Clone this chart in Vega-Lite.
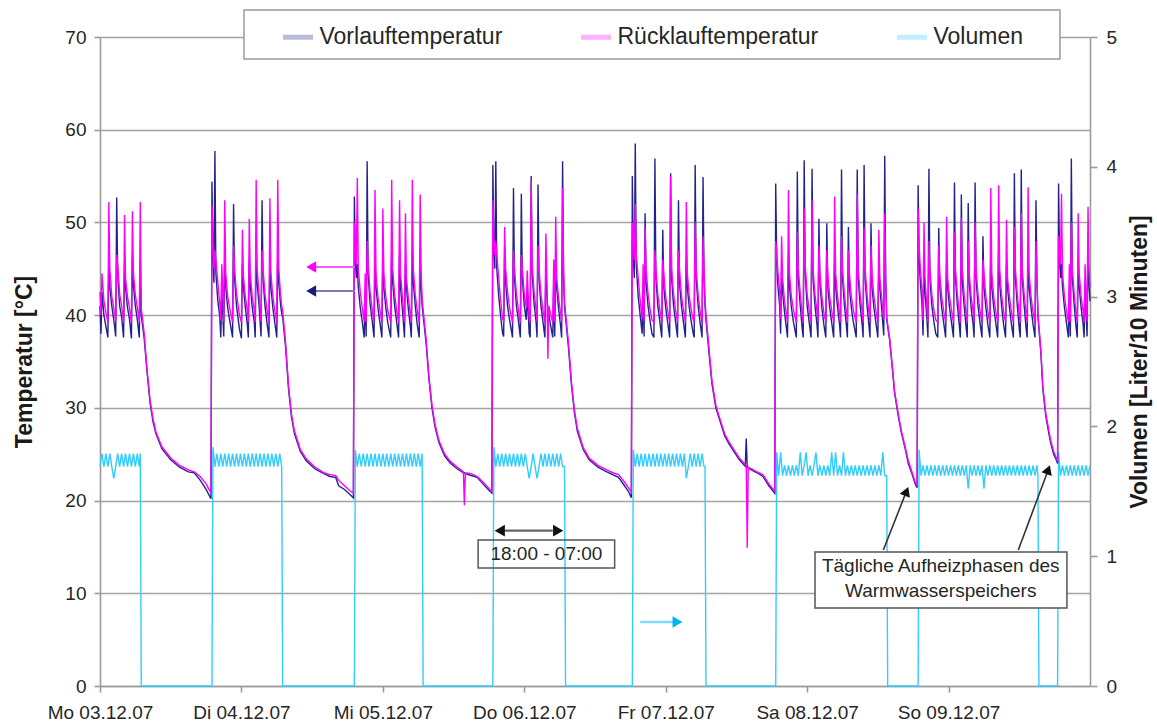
{
"$schema":"https://vega.github.io/schema/vega-lite/v6.json",
"width":990,"height":649,
"autosize":{"type":"none"},
"padding":{"left":100,"top":37,"right":67,"bottom":41},
"background":"white",
"config":{
"font":"Liberation Sans",
"view":{"stroke":null},
"axis":{"labelFont":"Liberation Sans","labelFontSize":19,"labelColor":"#262626","titleFont":"Liberation Sans","titleFontSize":23,"titleFontWeight":"bold","titleColor":"#1a1a1a","domainColor":"#9a9a9a","domainWidth":1.6,"tickColor":"#9a9a9a","tickWidth":1.6,"gridColor":"#a3a3a3","gridWidth":1.6}
},
"datasets":{
"temp":[
{"t":"2007-12-03T00:00","V":41.0,"R":42.5},{"t":"2007-12-03T00:10","V":38.0,"R":40.0},{"t":"2007-12-03T00:20","V":42.5,"R":44.5},{"t":"2007-12-03T00:40","V":40.0,"R":41.5},{"t":"2007-12-03T01:00","V":38.8,"R":40.3},{"t":"2007-12-03T01:20","V":37.6,"R":39.2},{"t":"2007-12-03T01:30","V":46.0,"R":52.2},{"t":"2007-12-03T01:40","V":43.0,"R":45.0},{"t":"2007-12-03T02:00","V":41.0,"R":42.0},{"t":"2007-12-03T02:20","V":39.5,"R":40.8},{"t":"2007-12-03T02:40","V":37.7,"R":39.3},{"t":"2007-12-03T02:50","V":52.7,"R":46.5},{"t":"2007-12-03T03:00","V":44.5,"R":45.5},{"t":"2007-12-03T03:20","V":41.0,"R":42.3},{"t":"2007-12-03T03:40","V":39.8,"R":41.0},{"t":"2007-12-03T04:00","V":37.6,"R":39.2},{"t":"2007-12-03T04:10","V":45.5,"R":50.8},{"t":"2007-12-03T04:20","V":43.0,"R":44.0},{"t":"2007-12-03T04:40","V":40.8,"R":42.0},{"t":"2007-12-03T05:00","V":39.6,"R":40.8},{"t":"2007-12-03T05:20","V":37.5,"R":39.2},{"t":"2007-12-03T05:30","V":46.5,"R":51.2},{"t":"2007-12-03T05:40","V":43.2,"R":44.5},{"t":"2007-12-03T06:00","V":41.0,"R":42.2},{"t":"2007-12-03T06:20","V":39.5,"R":40.8},{"t":"2007-12-03T06:40","V":37.6,"R":39.3},{"t":"2007-12-03T06:50","V":46.0,"R":52.2},
{"t":"2007-12-03T07:00","V":40.0,"R":40.8},{"t":"2007-12-03T07:30","V":37.5,"R":38.0},{"t":"2007-12-03T08:00","V":33.8,"R":34.0},{"t":"2007-12-03T08:30","V":30.5,"R":30.8},{"t":"2007-12-03T09:00","V":28.5,"R":28.8},{"t":"2007-12-03T09:30","V":27.2,"R":27.4},{"t":"2007-12-03T10:30","V":25.6,"R":25.8},{"t":"2007-12-03T12:00","V":24.4,"R":24.6},{"t":"2007-12-03T13:30","V":23.6,"R":23.8},{"t":"2007-12-03T15:00","V":23.1,"R":23.3},{"t":"2007-12-03T16:00","V":23.0,"R":23.1},{"t":"2007-12-03T17:00","V":22.2,"R":22.6},{"t":"2007-12-03T18:00","V":21.2,"R":21.8},{"t":"2007-12-03T18:50","V":20.2,"R":20.8},
{"t":"2007-12-03T19:00","V":54.4,"R":51.9},{"t":"2007-12-03T19:10","V":46.5,"R":48.0},{"t":"2007-12-03T19:20","V":43.5,"R":45.0},{"t":"2007-12-03T19:30","V":57.7,"R":47.0},{"t":"2007-12-03T19:40","V":44.5,"R":46.0},{"t":"2007-12-03T20:00","V":41.5,"R":43.5},{"t":"2007-12-03T20:20","V":39.8,"R":41.2},{"t":"2007-12-03T20:30","V":37.6,"R":39.4},{"t":"2007-12-03T20:40","V":42.8,"R":45.5},{"t":"2007-12-03T21:00","V":37.7,"R":39.3},{"t":"2007-12-03T21:10","V":46.5,"R":52.4},{"t":"2007-12-03T21:20","V":43.0,"R":44.5},{"t":"2007-12-03T21:40","V":40.8,"R":42.0},{"t":"2007-12-03T22:00","V":39.5,"R":40.8},{"t":"2007-12-03T22:30","V":37.6,"R":39.2},{"t":"2007-12-03T22:40","V":52.0,"R":47.5},{"t":"2007-12-03T22:50","V":44.0,"R":45.0},{"t":"2007-12-03T23:10","V":41.0,"R":42.3},{"t":"2007-12-03T23:40","V":38.5,"R":40.0},
{"t":"2007-12-04T00:00","V":37.5,"R":39.2},{"t":"2007-12-04T00:10","V":45.5,"R":49.2},{"t":"2007-12-04T00:20","V":43.0,"R":44.2},{"t":"2007-12-04T00:40","V":40.8,"R":42.0},{"t":"2007-12-04T01:00","V":39.0,"R":40.5},{"t":"2007-12-04T01:10","V":37.6,"R":39.2},{"t":"2007-12-04T01:20","V":46.0,"R":50.4},{"t":"2007-12-04T01:30","V":43.2,"R":44.5},{"t":"2007-12-04T01:50","V":40.8,"R":42.0},{"t":"2007-12-04T02:10","V":39.3,"R":40.6},{"t":"2007-12-04T02:20","V":37.6,"R":39.2},{"t":"2007-12-04T02:30","V":47.0,"R":54.6},{"t":"2007-12-04T02:40","V":43.5,"R":45.0},{"t":"2007-12-04T03:00","V":41.0,"R":42.2},{"t":"2007-12-04T03:20","V":37.7,"R":39.3},{"t":"2007-12-04T03:30","V":52.4,"R":47.0},{"t":"2007-12-04T03:40","V":44.0,"R":45.0},{"t":"2007-12-04T04:00","V":41.0,"R":42.3},{"t":"2007-12-04T04:20","V":39.2,"R":40.6},{"t":"2007-12-04T04:40","V":37.6,"R":39.2},{"t":"2007-12-04T04:50","V":46.5,"R":52.6},{"t":"2007-12-04T05:00","V":43.0,"R":44.5},{"t":"2007-12-04T05:20","V":40.8,"R":42.0},{"t":"2007-12-04T05:40","V":39.2,"R":40.5},{"t":"2007-12-04T06:00","V":37.6,"R":39.2},{"t":"2007-12-04T06:10","V":47.0,"R":54.6},{"t":"2007-12-04T06:20","V":43.5,"R":45.0},{"t":"2007-12-04T06:40","V":41.0,"R":42.0},{"t":"2007-12-04T06:50","V":40.2,"R":41.0},
{"t":"2007-12-04T07:00","V":39.8,"R":40.5},{"t":"2007-12-04T07:30","V":36.5,"R":37.0},{"t":"2007-12-04T08:00","V":32.0,"R":32.3},{"t":"2007-12-04T08:30","V":29.0,"R":29.3},{"t":"2007-12-04T09:00","V":27.2,"R":27.5},{"t":"2007-12-04T10:00","V":25.3,"R":25.5},{"t":"2007-12-04T11:00","V":24.3,"R":24.5},{"t":"2007-12-04T12:30","V":23.4,"R":23.6},{"t":"2007-12-04T14:00","V":22.9,"R":23.0},{"t":"2007-12-04T15:00","V":22.6,"R":22.8},{"t":"2007-12-04T16:00","V":22.5,"R":22.7},{"t":"2007-12-04T16:30","V":21.6,"R":22.2},{"t":"2007-12-04T17:30","V":21.2,"R":21.6},{"t":"2007-12-04T18:30","V":20.6,"R":21.0},{"t":"2007-12-04T19:00","V":20.3,"R":20.8},
{"t":"2007-12-04T19:10","V":52.8,"R":50.0},{"t":"2007-12-04T19:20","V":46.0,"R":47.5},{"t":"2007-12-04T19:30","V":44.0,"R":45.5},{"t":"2007-12-04T19:40","V":45.5,"R":54.8},{"t":"2007-12-04T19:50","V":43.0,"R":45.0},{"t":"2007-12-04T20:10","V":40.8,"R":42.5},{"t":"2007-12-04T20:30","V":39.3,"R":40.8},{"t":"2007-12-04T20:50","V":37.6,"R":39.3},{"t":"2007-12-04T21:00","V":42.5,"R":44.5},{"t":"2007-12-04T21:10","V":37.7,"R":39.2},{"t":"2007-12-04T21:20","V":56.6,"R":48.0},{"t":"2007-12-04T21:30","V":44.5,"R":45.5},{"t":"2007-12-04T21:50","V":41.2,"R":42.5},{"t":"2007-12-04T22:10","V":39.5,"R":40.8},{"t":"2007-12-04T22:30","V":37.6,"R":39.2},{"t":"2007-12-04T22:40","V":46.5,"R":53.5},{"t":"2007-12-04T22:50","V":43.0,"R":44.5},{"t":"2007-12-04T23:10","V":40.8,"R":42.0},{"t":"2007-12-04T23:30","V":39.2,"R":40.6},{"t":"2007-12-04T23:50","V":37.6,"R":39.2},
{"t":"2007-12-05T00:00","V":46.0,"R":51.5},{"t":"2007-12-05T00:10","V":43.0,"R":44.5},{"t":"2007-12-05T00:30","V":40.8,"R":42.0},{"t":"2007-12-05T00:50","V":39.2,"R":40.5},{"t":"2007-12-05T01:20","V":37.6,"R":39.2},{"t":"2007-12-05T01:30","V":47.0,"R":54.6},{"t":"2007-12-05T01:40","V":43.5,"R":45.0},{"t":"2007-12-05T02:00","V":41.0,"R":42.2},{"t":"2007-12-05T02:20","V":39.3,"R":40.6},{"t":"2007-12-05T02:40","V":37.6,"R":39.2},{"t":"2007-12-05T02:50","V":46.5,"R":52.4},{"t":"2007-12-05T03:00","V":43.0,"R":44.5},{"t":"2007-12-05T03:20","V":40.5,"R":41.8},{"t":"2007-12-05T03:40","V":37.6,"R":39.2},{"t":"2007-12-05T03:50","V":45.5,"R":51.0},{"t":"2007-12-05T04:00","V":43.0,"R":44.0},{"t":"2007-12-05T04:20","V":40.6,"R":41.8},{"t":"2007-12-05T04:40","V":38.8,"R":40.2},{"t":"2007-12-05T04:50","V":37.6,"R":39.2},{"t":"2007-12-05T05:00","V":47.0,"R":54.6},{"t":"2007-12-05T05:10","V":43.5,"R":45.0},{"t":"2007-12-05T05:30","V":41.0,"R":42.2},{"t":"2007-12-05T05:50","V":39.0,"R":40.5},{"t":"2007-12-05T06:10","V":37.6,"R":39.2},{"t":"2007-12-05T06:20","V":46.5,"R":53.0},{"t":"2007-12-05T06:30","V":43.0,"R":44.5},{"t":"2007-12-05T06:40","V":41.0,"R":41.8},
{"t":"2007-12-05T06:50","V":40.0,"R":40.6},{"t":"2007-12-05T07:20","V":37.0,"R":37.5},{"t":"2007-12-05T07:50","V":33.0,"R":33.3},{"t":"2007-12-05T08:20","V":30.0,"R":30.3},{"t":"2007-12-05T08:50","V":28.0,"R":28.3},{"t":"2007-12-05T09:30","V":26.3,"R":26.5},{"t":"2007-12-05T10:30","V":24.8,"R":25.0},{"t":"2007-12-05T11:30","V":24.0,"R":24.2},{"t":"2007-12-05T12:40","V":23.4,"R":23.6},{"t":"2007-12-05T13:40","V":23.0,"R":23.1},{"t":"2007-12-05T13:50","V":23.0,"R":19.5},{"t":"2007-12-05T14:00","V":22.9,"R":23.0},{"t":"2007-12-05T15:00","V":22.7,"R":22.9},{"t":"2007-12-05T16:00","V":22.5,"R":22.6},{"t":"2007-12-05T17:00","V":21.8,"R":22.0},{"t":"2007-12-05T18:00","V":21.1,"R":21.3},{"t":"2007-12-05T18:30","V":20.8,"R":21.0},
{"t":"2007-12-05T18:40","V":56.2,"R":52.4},{"t":"2007-12-05T18:50","V":47.0,"R":48.5},{"t":"2007-12-05T19:00","V":45.0,"R":46.5},{"t":"2007-12-05T19:10","V":56.6,"R":48.0},{"t":"2007-12-05T19:20","V":45.0,"R":46.5},{"t":"2007-12-05T19:40","V":42.0,"R":44.0},{"t":"2007-12-05T20:00","V":39.8,"R":41.5},{"t":"2007-12-05T20:20","V":38.0,"R":39.6},{"t":"2007-12-05T20:30","V":37.7,"R":39.3},{"t":"2007-12-05T20:40","V":47.4,"R":49.5},{"t":"2007-12-05T20:50","V":43.5,"R":45.0},{"t":"2007-12-05T21:10","V":41.0,"R":42.5},{"t":"2007-12-05T21:30","V":39.5,"R":40.8},{"t":"2007-12-05T22:00","V":37.6,"R":39.2},{"t":"2007-12-05T22:10","V":53.7,"R":47.0},{"t":"2007-12-05T22:20","V":44.0,"R":45.0},{"t":"2007-12-05T22:40","V":41.0,"R":42.3},{"t":"2007-12-05T23:00","V":39.4,"R":40.6},{"t":"2007-12-05T23:20","V":37.6,"R":39.2},{"t":"2007-12-05T23:30","V":53.1,"R":46.5},{"t":"2007-12-05T23:40","V":44.0,"R":45.0},
{"t":"2007-12-06T00:00","V":41.0,"R":42.3},{"t":"2007-12-06T00:20","V":39.5,"R":40.8},{"t":"2007-12-06T00:30","V":42.5,"R":44.8},{"t":"2007-12-06T00:50","V":38.0,"R":39.6},{"t":"2007-12-06T01:00","V":37.6,"R":39.2},{"t":"2007-12-06T01:10","V":55.0,"R":54.4},{"t":"2007-12-06T01:20","V":44.5,"R":45.5},{"t":"2007-12-06T01:40","V":41.2,"R":42.5},{"t":"2007-12-06T02:00","V":39.3,"R":40.6},{"t":"2007-12-06T02:10","V":37.6,"R":39.2},{"t":"2007-12-06T02:20","V":54.1,"R":47.5},{"t":"2007-12-06T02:30","V":44.0,"R":45.0},{"t":"2007-12-06T02:50","V":41.0,"R":42.2},{"t":"2007-12-06T03:10","V":39.3,"R":40.6},{"t":"2007-12-06T03:30","V":37.6,"R":39.2},{"t":"2007-12-06T03:40","V":45.0,"R":48.8},{"t":"2007-12-06T03:50","V":42.5,"R":44.0},{"t":"2007-12-06T04:00","V":40.5,"R":35.3},{"t":"2007-12-06T04:10","V":40.0,"R":41.0},{"t":"2007-12-06T04:30","V":38.8,"R":40.0},{"t":"2007-12-06T04:50","V":37.6,"R":39.2},{"t":"2007-12-06T05:00","V":43.5,"R":46.0},{"t":"2007-12-06T05:10","V":37.7,"R":39.3},{"t":"2007-12-06T05:20","V":45.5,"R":50.6},{"t":"2007-12-06T05:30","V":43.0,"R":44.0},{"t":"2007-12-06T05:50","V":40.6,"R":41.8},{"t":"2007-12-06T06:10","V":38.8,"R":40.2},{"t":"2007-12-06T06:20","V":37.6,"R":39.2},{"t":"2007-12-06T06:30","V":56.6,"R":53.7},{"t":"2007-12-06T06:40","V":44.0,"R":45.0},{"t":"2007-12-06T06:50","V":40.8,"R":41.5},
{"t":"2007-12-06T07:00","V":39.8,"R":40.3},{"t":"2007-12-06T07:30","V":36.5,"R":37.0},{"t":"2007-12-06T08:00","V":32.5,"R":32.8},{"t":"2007-12-06T08:30","V":29.5,"R":29.8},{"t":"2007-12-06T09:00","V":27.5,"R":27.8},{"t":"2007-12-06T10:00","V":25.5,"R":25.7},{"t":"2007-12-06T11:00","V":24.4,"R":24.6},{"t":"2007-12-06T12:30","V":23.6,"R":23.8},{"t":"2007-12-06T14:00","V":23.1,"R":23.3},{"t":"2007-12-06T15:00","V":22.8,"R":23.0},{"t":"2007-12-06T16:00","V":22.5,"R":22.8},{"t":"2007-12-06T17:00","V":21.6,"R":22.0},{"t":"2007-12-06T17:40","V":21.0,"R":21.4},{"t":"2007-12-06T18:10","V":20.3,"R":20.9},
{"t":"2007-12-06T18:20","V":55.0,"R":50.0},{"t":"2007-12-06T18:30","V":46.5,"R":48.5},{"t":"2007-12-06T18:40","V":44.0,"R":46.0},{"t":"2007-12-06T18:50","V":58.5,"R":52.0},{"t":"2007-12-06T19:00","V":45.5,"R":46.5},{"t":"2007-12-06T19:20","V":42.0,"R":44.0},{"t":"2007-12-06T19:40","V":40.0,"R":41.6},{"t":"2007-12-06T20:00","V":38.0,"R":39.6},{"t":"2007-12-06T20:10","V":42.8,"R":45.5},{"t":"2007-12-06T20:20","V":37.7,"R":39.3},{"t":"2007-12-06T20:30","V":51.0,"R":49.5},{"t":"2007-12-06T20:40","V":43.5,"R":45.0},{"t":"2007-12-06T21:00","V":41.0,"R":42.3},{"t":"2007-12-06T21:20","V":39.4,"R":40.7},{"t":"2007-12-06T21:40","V":38.0,"R":39.5},{"t":"2007-12-06T22:00","V":37.6,"R":39.2},{"t":"2007-12-06T22:10","V":56.9,"R":47.0},{"t":"2007-12-06T22:20","V":44.0,"R":45.0},{"t":"2007-12-06T22:40","V":41.0,"R":42.2},{"t":"2007-12-06T23:00","V":39.3,"R":40.6},{"t":"2007-12-06T23:20","V":37.6,"R":39.2},{"t":"2007-12-06T23:30","V":49.2,"R":46.0},{"t":"2007-12-06T23:40","V":43.0,"R":44.5},
{"t":"2007-12-07T00:00","V":40.8,"R":42.0},{"t":"2007-12-07T00:20","V":39.2,"R":40.5},{"t":"2007-12-07T00:40","V":37.6,"R":39.2},{"t":"2007-12-07T00:50","V":55.3,"R":55.0},{"t":"2007-12-07T01:00","V":44.0,"R":45.0},{"t":"2007-12-07T01:20","V":41.0,"R":42.3},{"t":"2007-12-07T01:40","V":39.3,"R":40.6},{"t":"2007-12-07T02:00","V":37.6,"R":39.2},{"t":"2007-12-07T02:10","V":52.4,"R":47.0},{"t":"2007-12-07T02:20","V":43.5,"R":45.0},{"t":"2007-12-07T02:40","V":41.0,"R":42.2},{"t":"2007-12-07T03:00","V":39.3,"R":40.6},{"t":"2007-12-07T03:20","V":37.6,"R":39.2},{"t":"2007-12-07T03:30","V":46.0,"R":52.2},{"t":"2007-12-07T03:40","V":43.0,"R":44.5},{"t":"2007-12-07T04:00","V":40.8,"R":42.0},{"t":"2007-12-07T04:20","V":39.3,"R":40.6},{"t":"2007-12-07T04:40","V":38.0,"R":39.5},{"t":"2007-12-07T04:50","V":37.6,"R":39.2},{"t":"2007-12-07T05:00","V":56.2,"R":50.0},{"t":"2007-12-07T05:10","V":44.0,"R":45.0},{"t":"2007-12-07T05:30","V":41.0,"R":42.2},{"t":"2007-12-07T05:50","V":39.2,"R":40.5},{"t":"2007-12-07T06:10","V":37.6,"R":39.2},{"t":"2007-12-07T06:20","V":54.9,"R":48.5},{"t":"2007-12-07T06:30","V":44.0,"R":45.0},{"t":"2007-12-07T06:40","V":41.0,"R":41.8},
{"t":"2007-12-07T06:50","V":39.5,"R":40.0},{"t":"2007-12-07T07:20","V":36.0,"R":36.5},{"t":"2007-12-07T07:50","V":32.7,"R":33.0},{"t":"2007-12-07T08:30","V":30.0,"R":30.3},{"t":"2007-12-07T09:00","V":29.0,"R":29.2},{"t":"2007-12-07T10:00","V":27.0,"R":27.2},{"t":"2007-12-07T10:40","V":26.2,"R":26.4},{"t":"2007-12-07T11:40","V":25.2,"R":25.4},{"t":"2007-12-07T12:30","V":24.4,"R":24.6},{"t":"2007-12-07T13:30","V":23.7,"R":23.9},{"t":"2007-12-07T13:40","V":26.7,"R":23.8},{"t":"2007-12-07T13:50","V":23.6,"R":14.9},{"t":"2007-12-07T14:00","V":23.5,"R":23.6},{"t":"2007-12-07T15:30","V":23.0,"R":23.1},{"t":"2007-12-07T16:30","V":22.6,"R":22.8},{"t":"2007-12-07T17:30","V":21.6,"R":21.8},{"t":"2007-12-07T18:30","V":20.8,"R":21.0},
{"t":"2007-12-07T18:40","V":54.2,"R":48.0},{"t":"2007-12-07T18:50","V":46.0,"R":47.0},{"t":"2007-12-07T19:00","V":43.5,"R":45.0},{"t":"2007-12-07T19:20","V":41.0,"R":42.5},{"t":"2007-12-07T19:30","V":38.0,"R":39.6},{"t":"2007-12-07T19:40","V":45.0,"R":48.5},{"t":"2007-12-07T19:50","V":42.5,"R":44.0},{"t":"2007-12-07T20:10","V":40.3,"R":41.5},{"t":"2007-12-07T20:30","V":38.5,"R":40.0},{"t":"2007-12-07T20:40","V":37.6,"R":39.2},{"t":"2007-12-07T20:50","V":46.5,"R":53.5},{"t":"2007-12-07T21:00","V":43.0,"R":44.5},{"t":"2007-12-07T21:20","V":40.8,"R":42.0},{"t":"2007-12-07T21:40","V":39.3,"R":40.6},{"t":"2007-12-07T22:10","V":37.6,"R":39.2},{"t":"2007-12-07T22:20","V":55.5,"R":49.0},{"t":"2007-12-07T22:30","V":44.0,"R":45.0},{"t":"2007-12-07T22:50","V":41.0,"R":42.3},{"t":"2007-12-07T23:10","V":38.5,"R":40.0},{"t":"2007-12-07T23:20","V":37.6,"R":39.2},{"t":"2007-12-07T23:30","V":56.7,"R":51.5},{"t":"2007-12-07T23:40","V":44.5,"R":45.5},
{"t":"2007-12-08T00:00","V":41.0,"R":42.3},{"t":"2007-12-08T00:20","V":39.3,"R":40.6},{"t":"2007-12-08T00:40","V":37.6,"R":39.2},{"t":"2007-12-08T00:50","V":55.8,"R":52.4},{"t":"2007-12-08T01:00","V":44.0,"R":45.0},{"t":"2007-12-08T01:20","V":41.0,"R":42.2},{"t":"2007-12-08T01:40","V":39.0,"R":40.4},{"t":"2007-12-08T01:50","V":37.6,"R":39.2},{"t":"2007-12-08T02:00","V":50.4,"R":47.5},{"t":"2007-12-08T02:10","V":43.5,"R":44.5},{"t":"2007-12-08T02:30","V":40.8,"R":42.0},{"t":"2007-12-08T02:50","V":39.0,"R":40.3},{"t":"2007-12-08T03:10","V":37.6,"R":39.2},{"t":"2007-12-08T03:20","V":49.9,"R":47.0},{"t":"2007-12-08T03:30","V":43.0,"R":44.5},{"t":"2007-12-08T03:50","V":40.8,"R":42.0},{"t":"2007-12-08T04:10","V":39.2,"R":40.5},{"t":"2007-12-08T04:30","V":37.6,"R":39.2},{"t":"2007-12-08T04:40","V":46.0,"R":52.8},{"t":"2007-12-08T04:50","V":43.0,"R":44.5},{"t":"2007-12-08T05:10","V":40.8,"R":42.0},{"t":"2007-12-08T05:30","V":39.0,"R":40.3},{"t":"2007-12-08T05:40","V":37.6,"R":39.2},{"t":"2007-12-08T05:50","V":55.7,"R":48.5},{"t":"2007-12-08T06:00","V":44.0,"R":45.0},{"t":"2007-12-08T06:20","V":41.0,"R":42.2},{"t":"2007-12-08T06:40","V":38.8,"R":40.2},{"t":"2007-12-08T06:50","V":37.6,"R":39.2},{"t":"2007-12-08T07:00","V":49.5,"R":47.0},{"t":"2007-12-08T07:10","V":43.0,"R":44.5},{"t":"2007-12-08T07:30","V":40.8,"R":42.0},{"t":"2007-12-08T07:50","V":39.3,"R":40.6},{"t":"2007-12-08T08:20","V":37.6,"R":39.2},{"t":"2007-12-08T08:30","V":55.7,"R":53.1},{"t":"2007-12-08T08:40","V":44.0,"R":45.0},{"t":"2007-12-08T09:00","V":41.0,"R":42.2},{"t":"2007-12-08T09:20","V":39.0,"R":40.4},{"t":"2007-12-08T09:30","V":37.6,"R":39.2},{"t":"2007-12-08T09:40","V":56.2,"R":49.5},{"t":"2007-12-08T09:50","V":44.0,"R":45.0},{"t":"2007-12-08T10:10","V":41.0,"R":42.2},{"t":"2007-12-08T10:30","V":38.8,"R":40.2},{"t":"2007-12-08T10:40","V":37.6,"R":39.2},{"t":"2007-12-08T10:50","V":49.9,"R":47.5},{"t":"2007-12-08T11:00","V":43.0,"R":44.5},{"t":"2007-12-08T11:20","V":40.8,"R":42.0},{"t":"2007-12-08T11:40","V":39.2,"R":40.5},{"t":"2007-12-08T12:00","V":37.6,"R":39.2},{"t":"2007-12-08T12:10","V":46.0,"R":49.2},{"t":"2007-12-08T12:20","V":43.0,"R":44.0},{"t":"2007-12-08T12:40","V":40.6,"R":41.8},{"t":"2007-12-08T13:00","V":37.8,"R":39.5},{"t":"2007-12-08T13:10","V":57.2,"R":51.0},{"t":"2007-12-08T13:20","V":44.0,"R":43.5},
{"t":"2007-12-08T13:30","V":39.5,"R":39.8},{"t":"2007-12-08T14:00","V":37.3,"R":37.5},{"t":"2007-12-08T14:30","V":34.0,"R":34.2},{"t":"2007-12-08T14:50","V":31.6,"R":31.8},{"t":"2007-12-08T15:30","V":29.0,"R":29.2},{"t":"2007-12-08T16:00","V":27.3,"R":27.5},{"t":"2007-12-08T16:40","V":25.5,"R":25.7},{"t":"2007-12-08T17:10","V":24.0,"R":24.3},{"t":"2007-12-08T17:50","V":22.8,"R":23.0},{"t":"2007-12-08T18:20","V":21.8,"R":22.0},{"t":"2007-12-08T18:40","V":21.4,"R":21.6},
{"t":"2007-12-08T18:50","V":54.0,"R":51.5},{"t":"2007-12-08T19:00","V":46.0,"R":47.5},{"t":"2007-12-08T19:10","V":44.0,"R":45.5},{"t":"2007-12-08T19:30","V":41.0,"R":42.5},{"t":"2007-12-08T19:40","V":37.8,"R":39.4},{"t":"2007-12-08T19:50","V":45.0,"R":50.0},{"t":"2007-12-08T20:00","V":42.5,"R":44.0},{"t":"2007-12-08T20:20","V":39.5,"R":40.8},{"t":"2007-12-08T20:30","V":37.6,"R":39.2},{"t":"2007-12-08T20:40","V":55.8,"R":48.0},{"t":"2007-12-08T20:50","V":44.0,"R":45.0},{"t":"2007-12-08T21:10","V":41.0,"R":42.2},{"t":"2007-12-08T21:30","V":39.3,"R":40.6},{"t":"2007-12-08T21:50","V":38.0,"R":39.5},{"t":"2007-12-08T22:10","V":37.6,"R":39.2},{"t":"2007-12-08T22:20","V":49.4,"R":47.5},{"t":"2007-12-08T22:30","V":43.0,"R":44.5},{"t":"2007-12-08T22:50","V":40.8,"R":42.0},{"t":"2007-12-08T23:10","V":39.2,"R":40.5},{"t":"2007-12-08T23:30","V":37.6,"R":39.2},{"t":"2007-12-08T23:40","V":45.5,"R":50.6},{"t":"2007-12-08T23:50","V":43.0,"R":44.0},
{"t":"2007-12-09T00:10","V":40.8,"R":42.0},{"t":"2007-12-09T00:30","V":39.2,"R":40.5},{"t":"2007-12-09T00:50","V":37.6,"R":39.2},{"t":"2007-12-09T01:00","V":54.3,"R":49.0},{"t":"2007-12-09T01:10","V":44.0,"R":45.0},{"t":"2007-12-09T01:30","V":41.0,"R":42.2},{"t":"2007-12-09T01:50","V":38.8,"R":40.2},{"t":"2007-12-09T02:00","V":37.6,"R":39.2},{"t":"2007-12-09T02:10","V":53.0,"R":50.5},{"t":"2007-12-09T02:20","V":43.5,"R":45.0},{"t":"2007-12-09T02:40","V":40.8,"R":42.0},{"t":"2007-12-09T03:00","V":38.5,"R":40.0},{"t":"2007-12-09T03:10","V":37.6,"R":39.2},{"t":"2007-12-09T03:20","V":52.1,"R":48.0},{"t":"2007-12-09T03:30","V":43.5,"R":44.5},{"t":"2007-12-09T03:50","V":40.8,"R":42.0},{"t":"2007-12-09T04:10","V":39.0,"R":40.4},{"t":"2007-12-09T04:20","V":37.6,"R":39.2},{"t":"2007-12-09T04:30","V":54.3,"R":50.0},{"t":"2007-12-09T04:40","V":44.0,"R":45.0},{"t":"2007-12-09T05:00","V":41.0,"R":42.2},{"t":"2007-12-09T05:20","V":39.2,"R":40.5},{"t":"2007-12-09T05:40","V":37.6,"R":39.2},{"t":"2007-12-09T05:50","V":48.5,"R":46.0},{"t":"2007-12-09T06:00","V":43.0,"R":44.5},{"t":"2007-12-09T06:20","V":40.8,"R":42.0},{"t":"2007-12-09T06:40","V":39.0,"R":40.4},{"t":"2007-12-09T07:00","V":37.6,"R":39.2},{"t":"2007-12-09T07:10","V":46.5,"R":53.7},{"t":"2007-12-09T07:20","V":43.0,"R":44.5},{"t":"2007-12-09T07:40","V":40.8,"R":42.0},{"t":"2007-12-09T08:00","V":39.2,"R":40.5},{"t":"2007-12-09T08:20","V":37.6,"R":39.2},{"t":"2007-12-09T08:30","V":47.0,"R":54.0},{"t":"2007-12-09T08:40","V":43.5,"R":45.0},{"t":"2007-12-09T09:00","V":41.0,"R":42.2},{"t":"2007-12-09T09:20","V":39.0,"R":40.4},{"t":"2007-12-09T09:40","V":37.6,"R":39.2},{"t":"2007-12-09T09:50","V":45.5,"R":50.3},{"t":"2007-12-09T10:00","V":43.0,"R":44.0},{"t":"2007-12-09T10:20","V":40.8,"R":42.0},{"t":"2007-12-09T10:40","V":39.0,"R":40.3},{"t":"2007-12-09T11:00","V":37.6,"R":39.2},{"t":"2007-12-09T11:10","V":55.3,"R":49.5},{"t":"2007-12-09T11:20","V":44.0,"R":45.0},{"t":"2007-12-09T11:40","V":41.0,"R":42.2},{"t":"2007-12-09T12:00","V":38.5,"R":40.0},{"t":"2007-12-09T12:10","V":37.6,"R":39.2},{"t":"2007-12-09T12:20","V":55.7,"R":51.0},{"t":"2007-12-09T12:30","V":44.0,"R":45.0},{"t":"2007-12-09T12:50","V":41.0,"R":42.2},{"t":"2007-12-09T13:10","V":38.5,"R":40.0},{"t":"2007-12-09T13:20","V":37.6,"R":39.2},{"t":"2007-12-09T13:30","V":46.5,"R":53.8},{"t":"2007-12-09T13:40","V":43.0,"R":44.5},{"t":"2007-12-09T14:00","V":40.8,"R":42.0},{"t":"2007-12-09T14:20","V":39.0,"R":40.3},{"t":"2007-12-09T14:40","V":37.6,"R":39.2},{"t":"2007-12-09T14:50","V":52.4,"R":48.0},{"t":"2007-12-09T15:00","V":43.5,"R":44.0},
{"t":"2007-12-09T15:10","V":39.8,"R":40.2},{"t":"2007-12-09T15:40","V":35.9,"R":36.2},{"t":"2007-12-09T16:00","V":32.0,"R":32.3},{"t":"2007-12-09T16:30","V":29.1,"R":29.4},{"t":"2007-12-09T17:00","V":27.3,"R":27.6},{"t":"2007-12-09T17:20","V":26.2,"R":26.5},{"t":"2007-12-09T17:50","V":25.0,"R":25.3},{"t":"2007-12-09T18:20","V":24.3,"R":24.5},{"t":"2007-12-09T18:30","V":24.0,"R":24.2},
{"t":"2007-12-09T18:40","V":54.2,"R":48.5},{"t":"2007-12-09T18:50","V":46.0,"R":47.5},{"t":"2007-12-09T19:00","V":44.0,"R":45.5},{"t":"2007-12-09T19:10","V":45.5,"R":53.1},{"t":"2007-12-09T19:20","V":43.0,"R":44.5},{"t":"2007-12-09T19:40","V":40.8,"R":42.0},{"t":"2007-12-09T20:00","V":39.2,"R":40.5},{"t":"2007-12-09T20:20","V":37.6,"R":39.2},{"t":"2007-12-09T20:30","V":43.0,"R":45.5},{"t":"2007-12-09T20:40","V":37.7,"R":39.3},{"t":"2007-12-09T20:50","V":56.9,"R":50.0},{"t":"2007-12-09T21:00","V":44.0,"R":45.0},{"t":"2007-12-09T21:20","V":41.0,"R":42.2},{"t":"2007-12-09T21:40","V":38.5,"R":40.0},{"t":"2007-12-09T21:50","V":37.6,"R":39.2},{"t":"2007-12-09T22:00","V":46.0,"R":51.0},{"t":"2007-12-09T22:10","V":43.0,"R":44.5},{"t":"2007-12-09T22:30","V":40.8,"R":42.0},{"t":"2007-12-09T22:50","V":39.0,"R":40.4},{"t":"2007-12-09T23:00","V":37.6,"R":39.2},{"t":"2007-12-09T23:10","V":43.0,"R":45.5},{"t":"2007-12-09T23:30","V":37.7,"R":39.3},{"t":"2007-12-09T23:40","V":46.0,"R":51.7},{"t":"2007-12-09T23:50","V":43.5,"R":45.0},{"t":"2007-12-10T00:00","V":41.5,"R":43.0}
],
"vol":[
{"t":"2007-12-03T00:00","Q":1.69},{"t":"2007-12-03T00:20","Q":1.79},{"t":"2007-12-03T00:40","Q":1.69},{"t":"2007-12-03T01:00","Q":1.79},{"t":"2007-12-03T01:20","Q":1.69},{"t":"2007-12-03T01:40","Q":1.79},{"t":"2007-12-03T02:00","Q":1.69},{"t":"2007-12-03T02:20","Q":1.60},{"t":"2007-12-03T02:40","Q":1.69},{"t":"2007-12-03T03:00","Q":1.79},{"t":"2007-12-03T03:20","Q":1.69},{"t":"2007-12-03T03:40","Q":1.79},{"t":"2007-12-03T04:00","Q":1.69},{"t":"2007-12-03T04:20","Q":1.79},{"t":"2007-12-03T04:40","Q":1.69},{"t":"2007-12-03T05:00","Q":1.79},{"t":"2007-12-03T05:20","Q":1.69},{"t":"2007-12-03T05:40","Q":1.79},{"t":"2007-12-03T06:00","Q":1.69},{"t":"2007-12-03T06:20","Q":1.79},{"t":"2007-12-03T06:40","Q":1.69},{"t":"2007-12-03T06:50","Q":1.79},{"t":"2007-12-03T07:00","Q":0},{"t":"2007-12-03T19:00","Q":0},
{"t":"2007-12-03T19:10","Q":1.84},{"t":"2007-12-03T19:30","Q":1.69},{"t":"2007-12-03T19:50","Q":1.79},{"t":"2007-12-03T20:10","Q":1.69},{"t":"2007-12-03T20:30","Q":1.79},{"t":"2007-12-03T20:50","Q":1.69},{"t":"2007-12-03T21:10","Q":1.79},{"t":"2007-12-03T21:30","Q":1.69},{"t":"2007-12-03T21:50","Q":1.79},{"t":"2007-12-03T22:10","Q":1.69},{"t":"2007-12-03T22:30","Q":1.79},{"t":"2007-12-03T22:50","Q":1.69},{"t":"2007-12-03T23:10","Q":1.79},{"t":"2007-12-03T23:30","Q":1.69},{"t":"2007-12-03T23:50","Q":1.79},{"t":"2007-12-04T00:10","Q":1.69},{"t":"2007-12-04T00:30","Q":1.79},{"t":"2007-12-04T00:50","Q":1.69},{"t":"2007-12-04T01:10","Q":1.79},{"t":"2007-12-04T01:30","Q":1.69},{"t":"2007-12-04T01:50","Q":1.79},{"t":"2007-12-04T02:10","Q":1.69},{"t":"2007-12-04T02:30","Q":1.79},{"t":"2007-12-04T02:50","Q":1.69},{"t":"2007-12-04T03:10","Q":1.79},{"t":"2007-12-04T03:30","Q":1.69},{"t":"2007-12-04T03:50","Q":1.79},{"t":"2007-12-04T04:10","Q":1.69},{"t":"2007-12-04T04:30","Q":1.79},{"t":"2007-12-04T04:50","Q":1.69},{"t":"2007-12-04T05:10","Q":1.79},{"t":"2007-12-04T05:30","Q":1.69},{"t":"2007-12-04T05:50","Q":1.79},{"t":"2007-12-04T06:10","Q":1.69},{"t":"2007-12-04T06:30","Q":1.79},{"t":"2007-12-04T06:50","Q":1.69},{"t":"2007-12-04T07:00","Q":0},{"t":"2007-12-04T19:10","Q":0},
{"t":"2007-12-04T19:20","Q":1.82},{"t":"2007-12-04T19:40","Q":1.69},{"t":"2007-12-04T20:00","Q":1.79},{"t":"2007-12-04T20:20","Q":1.69},{"t":"2007-12-04T20:40","Q":1.79},{"t":"2007-12-04T21:00","Q":1.69},{"t":"2007-12-04T21:20","Q":1.79},{"t":"2007-12-04T21:40","Q":1.69},{"t":"2007-12-04T22:00","Q":1.79},{"t":"2007-12-04T22:20","Q":1.69},{"t":"2007-12-04T22:40","Q":1.79},{"t":"2007-12-04T23:00","Q":1.69},{"t":"2007-12-04T23:20","Q":1.79},{"t":"2007-12-04T23:40","Q":1.69},{"t":"2007-12-05T00:00","Q":1.79},{"t":"2007-12-05T00:20","Q":1.69},{"t":"2007-12-05T00:40","Q":1.79},{"t":"2007-12-05T01:00","Q":1.69},{"t":"2007-12-05T01:20","Q":1.79},{"t":"2007-12-05T01:40","Q":1.69},{"t":"2007-12-05T02:00","Q":1.79},{"t":"2007-12-05T02:20","Q":1.69},{"t":"2007-12-05T02:40","Q":1.79},{"t":"2007-12-05T03:00","Q":1.69},{"t":"2007-12-05T03:20","Q":1.79},{"t":"2007-12-05T03:40","Q":1.69},{"t":"2007-12-05T04:00","Q":1.79},{"t":"2007-12-05T04:20","Q":1.69},{"t":"2007-12-05T04:40","Q":1.79},{"t":"2007-12-05T05:00","Q":1.69},{"t":"2007-12-05T05:20","Q":1.79},{"t":"2007-12-05T05:40","Q":1.69},{"t":"2007-12-05T06:00","Q":1.79},{"t":"2007-12-05T06:20","Q":1.69},{"t":"2007-12-05T06:40","Q":1.79},{"t":"2007-12-05T06:50","Q":0},{"t":"2007-12-05T18:40","Q":0},
{"t":"2007-12-05T18:50","Q":1.84},{"t":"2007-12-05T19:10","Q":1.69},{"t":"2007-12-05T19:30","Q":1.79},{"t":"2007-12-05T19:50","Q":1.69},{"t":"2007-12-05T20:10","Q":1.79},{"t":"2007-12-05T20:30","Q":1.69},{"t":"2007-12-05T20:50","Q":1.79},{"t":"2007-12-05T21:10","Q":1.69},{"t":"2007-12-05T21:30","Q":1.79},{"t":"2007-12-05T21:50","Q":1.69},{"t":"2007-12-05T22:10","Q":1.79},{"t":"2007-12-05T22:30","Q":1.69},{"t":"2007-12-05T22:50","Q":1.79},{"t":"2007-12-05T23:10","Q":1.69},{"t":"2007-12-05T23:30","Q":1.79},{"t":"2007-12-05T23:50","Q":1.69},{"t":"2007-12-06T00:10","Q":1.79},{"t":"2007-12-06T00:30","Q":1.69},{"t":"2007-12-06T00:50","Q":1.60},{"t":"2007-12-06T01:10","Q":1.69},{"t":"2007-12-06T01:30","Q":1.79},{"t":"2007-12-06T01:50","Q":1.69},{"t":"2007-12-06T02:10","Q":1.60},{"t":"2007-12-06T02:30","Q":1.69},{"t":"2007-12-06T02:50","Q":1.79},{"t":"2007-12-06T03:10","Q":1.69},{"t":"2007-12-06T03:30","Q":1.79},{"t":"2007-12-06T03:50","Q":1.69},{"t":"2007-12-06T04:10","Q":1.79},{"t":"2007-12-06T04:30","Q":1.69},{"t":"2007-12-06T04:50","Q":1.79},{"t":"2007-12-06T05:10","Q":1.69},{"t":"2007-12-06T05:30","Q":1.79},{"t":"2007-12-06T05:50","Q":1.69},{"t":"2007-12-06T06:10","Q":1.79},{"t":"2007-12-06T06:30","Q":1.69},{"t":"2007-12-06T06:50","Q":1.69},{"t":"2007-12-06T07:00","Q":0},{"t":"2007-12-06T18:20","Q":0},
{"t":"2007-12-06T18:30","Q":1.82},{"t":"2007-12-06T18:50","Q":1.69},{"t":"2007-12-06T19:10","Q":1.79},{"t":"2007-12-06T19:30","Q":1.69},{"t":"2007-12-06T19:50","Q":1.79},{"t":"2007-12-06T20:10","Q":1.69},{"t":"2007-12-06T20:30","Q":1.79},{"t":"2007-12-06T20:50","Q":1.69},{"t":"2007-12-06T21:10","Q":1.79},{"t":"2007-12-06T21:30","Q":1.69},{"t":"2007-12-06T21:50","Q":1.79},{"t":"2007-12-06T22:10","Q":1.69},{"t":"2007-12-06T22:30","Q":1.79},{"t":"2007-12-06T22:50","Q":1.69},{"t":"2007-12-06T23:10","Q":1.79},{"t":"2007-12-06T23:30","Q":1.69},{"t":"2007-12-06T23:50","Q":1.79},{"t":"2007-12-07T00:10","Q":1.69},{"t":"2007-12-07T00:30","Q":1.79},{"t":"2007-12-07T00:50","Q":1.69},{"t":"2007-12-07T01:10","Q":1.79},{"t":"2007-12-07T01:30","Q":1.69},{"t":"2007-12-07T01:50","Q":1.79},{"t":"2007-12-07T02:10","Q":1.69},{"t":"2007-12-07T02:30","Q":1.79},{"t":"2007-12-07T02:50","Q":1.69},{"t":"2007-12-07T03:10","Q":1.79},{"t":"2007-12-07T03:30","Q":1.60},{"t":"2007-12-07T03:50","Q":1.69},{"t":"2007-12-07T04:10","Q":1.79},{"t":"2007-12-07T04:30","Q":1.69},{"t":"2007-12-07T04:50","Q":1.79},{"t":"2007-12-07T05:10","Q":1.69},{"t":"2007-12-07T05:30","Q":1.79},{"t":"2007-12-07T05:50","Q":1.69},{"t":"2007-12-07T06:10","Q":1.79},{"t":"2007-12-07T06:30","Q":1.69},{"t":"2007-12-07T06:40","Q":1.69},{"t":"2007-12-07T06:50","Q":0},{"t":"2007-12-07T18:40","Q":0},
{"t":"2007-12-07T18:50","Q":1.80},{"t":"2007-12-07T19:10","Q":1.62},{"t":"2007-12-07T19:30","Q":1.80},{"t":"2007-12-07T19:50","Q":1.62},{"t":"2007-12-07T20:10","Q":1.70},{"t":"2007-12-07T20:30","Q":1.62},{"t":"2007-12-07T20:50","Q":1.70},{"t":"2007-12-07T21:10","Q":1.62},{"t":"2007-12-07T21:30","Q":1.70},{"t":"2007-12-07T21:50","Q":1.62},{"t":"2007-12-07T22:10","Q":1.70},{"t":"2007-12-07T22:30","Q":1.62},{"t":"2007-12-07T22:50","Q":1.80},{"t":"2007-12-07T23:10","Q":1.62},{"t":"2007-12-07T23:30","Q":1.70},{"t":"2007-12-07T23:50","Q":1.80},{"t":"2007-12-08T00:10","Q":1.62},{"t":"2007-12-08T00:30","Q":1.70},{"t":"2007-12-08T00:50","Q":1.62},{"t":"2007-12-08T01:10","Q":1.70},{"t":"2007-12-08T01:30","Q":1.80},{"t":"2007-12-08T01:50","Q":1.62},{"t":"2007-12-08T02:10","Q":1.70},{"t":"2007-12-08T02:30","Q":1.62},{"t":"2007-12-08T02:50","Q":1.70},{"t":"2007-12-08T03:10","Q":1.62},{"t":"2007-12-08T03:30","Q":1.70},{"t":"2007-12-08T03:50","Q":1.62},{"t":"2007-12-08T04:10","Q":1.80},{"t":"2007-12-08T04:30","Q":1.62},{"t":"2007-12-08T04:50","Q":1.80},{"t":"2007-12-08T05:10","Q":1.62},{"t":"2007-12-08T05:30","Q":1.70},{"t":"2007-12-08T05:50","Q":1.62},{"t":"2007-12-08T06:10","Q":1.80},{"t":"2007-12-08T06:30","Q":1.62},{"t":"2007-12-08T06:50","Q":1.70},{"t":"2007-12-08T07:10","Q":1.62},{"t":"2007-12-08T07:30","Q":1.70},{"t":"2007-12-08T07:50","Q":1.62},{"t":"2007-12-08T08:10","Q":1.70},{"t":"2007-12-08T08:30","Q":1.62},{"t":"2007-12-08T08:50","Q":1.70},{"t":"2007-12-08T09:10","Q":1.62},{"t":"2007-12-08T09:30","Q":1.70},{"t":"2007-12-08T09:50","Q":1.62},{"t":"2007-12-08T10:10","Q":1.70},{"t":"2007-12-08T10:30","Q":1.62},{"t":"2007-12-08T10:50","Q":1.70},{"t":"2007-12-08T11:10","Q":1.62},{"t":"2007-12-08T11:30","Q":1.70},{"t":"2007-12-08T11:50","Q":1.62},{"t":"2007-12-08T12:10","Q":1.70},{"t":"2007-12-08T12:30","Q":1.62},{"t":"2007-12-08T12:50","Q":1.80},{"t":"2007-12-08T13:10","Q":1.62},{"t":"2007-12-08T13:30","Q":1.62},{"t":"2007-12-08T13:40","Q":0},{"t":"2007-12-08T18:50","Q":0},
{"t":"2007-12-08T19:00","Q":1.82},{"t":"2007-12-08T19:20","Q":1.62},{"t":"2007-12-08T19:40","Q":1.70},{"t":"2007-12-08T20:00","Q":1.62},{"t":"2007-12-08T20:20","Q":1.70},{"t":"2007-12-08T20:40","Q":1.62},{"t":"2007-12-08T21:00","Q":1.70},{"t":"2007-12-08T21:20","Q":1.62},{"t":"2007-12-08T21:40","Q":1.70},{"t":"2007-12-08T22:00","Q":1.62},{"t":"2007-12-08T22:20","Q":1.70},{"t":"2007-12-08T22:40","Q":1.62},{"t":"2007-12-08T23:00","Q":1.70},{"t":"2007-12-08T23:20","Q":1.62},{"t":"2007-12-08T23:40","Q":1.70},{"t":"2007-12-09T00:00","Q":1.62},{"t":"2007-12-09T00:20","Q":1.70},{"t":"2007-12-09T00:40","Q":1.62},{"t":"2007-12-09T01:00","Q":1.70},{"t":"2007-12-09T01:20","Q":1.62},{"t":"2007-12-09T01:40","Q":1.70},{"t":"2007-12-09T02:00","Q":1.62},{"t":"2007-12-09T02:20","Q":1.70},{"t":"2007-12-09T02:40","Q":1.62},{"t":"2007-12-09T03:00","Q":1.70},{"t":"2007-12-09T03:20","Q":1.52},{"t":"2007-12-09T03:40","Q":1.70},{"t":"2007-12-09T04:00","Q":1.62},{"t":"2007-12-09T04:20","Q":1.70},{"t":"2007-12-09T04:40","Q":1.62},{"t":"2007-12-09T05:00","Q":1.70},{"t":"2007-12-09T05:20","Q":1.62},{"t":"2007-12-09T05:40","Q":1.70},{"t":"2007-12-09T06:00","Q":1.52},{"t":"2007-12-09T06:20","Q":1.70},{"t":"2007-12-09T06:40","Q":1.62},{"t":"2007-12-09T07:00","Q":1.70},{"t":"2007-12-09T07:20","Q":1.62},{"t":"2007-12-09T07:40","Q":1.70},{"t":"2007-12-09T08:00","Q":1.62},{"t":"2007-12-09T08:20","Q":1.70},{"t":"2007-12-09T08:40","Q":1.62},{"t":"2007-12-09T09:00","Q":1.70},{"t":"2007-12-09T09:20","Q":1.62},{"t":"2007-12-09T09:40","Q":1.70},{"t":"2007-12-09T10:00","Q":1.62},{"t":"2007-12-09T10:20","Q":1.70},{"t":"2007-12-09T10:40","Q":1.62},{"t":"2007-12-09T11:00","Q":1.70},{"t":"2007-12-09T11:20","Q":1.62},{"t":"2007-12-09T11:40","Q":1.70},{"t":"2007-12-09T12:00","Q":1.62},{"t":"2007-12-09T12:20","Q":1.70},{"t":"2007-12-09T12:40","Q":1.62},{"t":"2007-12-09T13:00","Q":1.70},{"t":"2007-12-09T13:20","Q":1.62},{"t":"2007-12-09T13:40","Q":1.70},{"t":"2007-12-09T14:00","Q":1.62},{"t":"2007-12-09T14:20","Q":1.70},{"t":"2007-12-09T14:40","Q":1.62},{"t":"2007-12-09T15:00","Q":1.70},{"t":"2007-12-09T15:10","Q":1.62},{"t":"2007-12-09T15:20","Q":0},{"t":"2007-12-09T18:30","Q":0},
{"t":"2007-12-09T18:40","Q":1.80},{"t":"2007-12-09T19:00","Q":1.62},{"t":"2007-12-09T19:20","Q":1.70},{"t":"2007-12-09T19:40","Q":1.62},{"t":"2007-12-09T20:00","Q":1.70},{"t":"2007-12-09T20:20","Q":1.62},{"t":"2007-12-09T20:40","Q":1.70},{"t":"2007-12-09T21:00","Q":1.62},{"t":"2007-12-09T21:20","Q":1.70},{"t":"2007-12-09T21:40","Q":1.62},{"t":"2007-12-09T22:00","Q":1.70},{"t":"2007-12-09T22:20","Q":1.62},{"t":"2007-12-09T22:40","Q":1.70},{"t":"2007-12-09T23:00","Q":1.62},{"t":"2007-12-09T23:20","Q":1.70},{"t":"2007-12-09T23:40","Q":1.62},{"t":"2007-12-10T00:00","Q":1.70}
]
},
"layer":[
{
"data":{"name":"vol"},
"transform":[{"fold":["Q"],"as":["s","v"]}],
"mark":{"type":"line","strokeWidth":1.4},
"encoding":{
"x":{"field":"t","type":"temporal","scale":{"domain":[{"year":2007,"month":"dec","date":3},{"year":2007,"month":"dec","date":10}],"nice":false},
"axis":{"values":[{"year":2007,"month":"dec","date":3},{"year":2007,"month":"dec","date":4},{"year":2007,"month":"dec","date":5},{"year":2007,"month":"dec","date":6},{"year":2007,"month":"dec","date":7},{"year":2007,"month":"dec","date":8},{"year":2007,"month":"dec","date":9}],
"labelExpr":"['So','Mo','Di','Mi','Do','Fr','Sa'][day(datum.value)] + ' ' + timeFormat(datum.value, '%d.%m.%y')",
"title":null,"grid":false,"tickSize":6,"labelPadding":11,"labelFlush":false,"labelOverlap":false,"labelBound":false}},
"y":{"field":"v","type":"quantitative","scale":{"domain":[0,5],"nice":false},
"axis":{"orient":"right","values":[0,1,2,3,4,5],"grid":false,"title":"Volumen [Liter/10 Minuten]","titleAngle":270,"titleBaseline":"top","titlePadding":12,"tickSize":7,"labelPadding":9}},
"color":{"field":"s","type":"nominal","scale":{"domain":["V","R","Q"],"range":["#22228a","#ff00ff","#33ccff"]},
"legend":{"orient":"none","legendX":144,"legendY":-27,"direction":"horizontal","title":" ","titleOrient":"left","titlePadding":27,"titleFontSize":23,"padding":9.5,"labelFont":"Liberation Sans","labelFontSize":23,"labelColor":"#262626","labelLimit":400,"symbolType":"stroke","symbolSize":900,"symbolStrokeWidth":5,"symbolOpacity":0.3,"columnPadding":68,"labelOffset":4,
"labelExpr":"datum.value == 'V' ? 'Vorlauftemperatur' : datum.value == 'R' ? 'Rücklauftemperatur' : 'Volumen'"}}
}
},
{
"layer":[
{
"data":{"values":[{}]},
"mark":{"type":"rect","fill":"white","stroke":"#9a9a9a","strokeWidth":1.5},
"encoding":{"x":{"datum":{"year":2007,"month":"dec","date":4,"hours":0,"minutes":26},"type":"temporal"},"x2":{"datum":{"year":2007,"month":"dec","date":9,"hours":18,"minutes":54}},"y":{"datum":72.91,"type":"quantitative"},"y2":{"datum":67.63}}
},
{
"data":{"name":"temp"},
"transform":[{"fold":["V","R"],"as":["s","v"]}],
"mark":{"type":"line","strokeWidth":1.4},
"encoding":{
"x":{"field":"t","type":"temporal"},
"y":{"field":"v","type":"quantitative","scale":{"domain":[0,70],"nice":false},
"axis":{"orient":"left","values":[0,10,20,30,40,50,60,70],"grid":true,"title":"Temperatur [°C]","titleAngle":270,"titleBaseline":"bottom","titlePadding":28,"tickSize":6,"labelPadding":8}},
"color":{"field":"s","type":"nominal"}
}
},
{
"data":{"values":[{}]},
"mark":{"type":"rule","color":"#ff55ff","strokeWidth":2},
"encoding":{"x":{"datum":{"year":2007,"month":"dec","date":4,"hours":12,"minutes":30},"type":"temporal"},"x2":{"datum":{"year":2007,"month":"dec","date":4,"hours":19,"minutes":15}},"y":{"datum":45.2,"type":"quantitative"}}
},
{
"data":{"values":[{}]},
"mark":{"type":"point","shape":"triangle-left","filled":true,"size":130,"color":"#ff00ff","opacity":1},
"encoding":{"x":{"datum":{"year":2007,"month":"dec","date":4,"hours":11,"minutes":50},"type":"temporal"},"y":{"datum":45.2,"type":"quantitative"}}
},
{
"data":{"values":[{}]},
"mark":{"type":"rule","color":"#7a7ab8","strokeWidth":2},
"encoding":{"x":{"datum":{"year":2007,"month":"dec","date":4,"hours":12,"minutes":30},"type":"temporal"},"x2":{"datum":{"year":2007,"month":"dec","date":4,"hours":19,"minutes":15}},"y":{"datum":42.6,"type":"quantitative"}}
},
{
"data":{"values":[{}]},
"mark":{"type":"point","shape":"triangle-left","filled":true,"size":130,"color":"#1a1a80","opacity":1},
"encoding":{"x":{"datum":{"year":2007,"month":"dec","date":4,"hours":11,"minutes":50},"type":"temporal"},"y":{"datum":42.6,"type":"quantitative"}}
},
{
"data":{"values":[{}]},
"mark":{"type":"rule","color":"#7fdcff","strokeWidth":2.5},
"encoding":{"x":{"datum":{"year":2007,"month":"dec","date":6,"hours":19,"minutes":40},"type":"temporal"},"x2":{"datum":{"year":2007,"month":"dec","date":7,"hours":1,"minutes":40}},"y":{"datum":6.9,"type":"quantitative"}}
},
{
"data":{"values":[{}]},
"mark":{"type":"point","shape":"triangle-right","filled":true,"size":130,"color":"#00b4f0","opacity":1},
"encoding":{"x":{"datum":{"year":2007,"month":"dec","date":7,"hours":2,"minutes":0},"type":"temporal"},"y":{"datum":6.9,"type":"quantitative"}}
},
{
"data":{"values":[{}]},
"mark":{"type":"rule","color":"#666666","strokeWidth":2.2},
"encoding":{"x":{"datum":{"year":2007,"month":"dec","date":5,"hours":20,"minutes":40},"type":"temporal"},"x2":{"datum":{"year":2007,"month":"dec","date":6,"hours":4,"minutes":50}},"y":{"datum":16.75,"type":"quantitative"}}
},
{
"data":{"values":[{}]},
"mark":{"type":"point","shape":"triangle-left","filled":true,"size":140,"color":"#111111","opacity":1},
"encoding":{"x":{"datum":{"year":2007,"month":"dec","date":5,"hours":19,"minutes":50},"type":"temporal"},"y":{"datum":16.75,"type":"quantitative"}}
},
{
"data":{"values":[{}]},
"mark":{"type":"point","shape":"triangle-right","filled":true,"size":140,"color":"#111111","opacity":1},
"encoding":{"x":{"datum":{"year":2007,"month":"dec","date":6,"hours":5,"minutes":45},"type":"temporal"},"y":{"datum":16.75,"type":"quantitative"}}
},
{
"data":{"values":[{}]},
"mark":{"type":"rect","fill":"transparent","stroke":"#555555","strokeWidth":1.5},
"encoding":{"x":{"datum":{"year":2007,"month":"dec","date":5,"hours":16,"minutes":10},"type":"temporal"},"x2":{"datum":{"year":2007,"month":"dec","date":6,"hours":15,"minutes":20}},"y":{"datum":15.75,"type":"quantitative"},"y2":{"datum":12.73}}
},
{
"data":{"values":[{}]},
"mark":{"type":"text","text":"18:00 - 07:00","font":"Liberation Sans","fontSize":19,"color":"#262626","align":"center","baseline":"middle"},
"encoding":{"x":{"datum":{"year":2007,"month":"dec","date":6,"hours":3,"minutes":45},"type":"temporal"},"y":{"datum":14.24,"type":"quantitative"}}
},
{
"data":{"values":[{}]},
"mark":{"type":"rect","fill":"white","stroke":"#555555","strokeWidth":1.5},
"encoding":{"x":{"datum":{"year":2007,"month":"dec","date":8,"hours":1,"minutes":20},"type":"temporal"},"x2":{"datum":{"year":2007,"month":"dec","date":9,"hours":20,"minutes":5}},"y":{"datum":14.45,"type":"quantitative"},"y2":{"datum":8.41}}
},
{
"data":{"values":[{}]},
"mark":{"type":"text","text":["Tägliche Aufheizphasen des","Warmwasserspeichers"],"font":"Liberation Sans","fontSize":19,"lineHeight":25,"color":"#262626","align":"center","baseline":"middle"},
"encoding":{"x":{"datum":{"year":2007,"month":"dec","date":8,"hours":22,"minutes":40},"type":"temporal"},"y":{"datum":12.94,"type":"quantitative"}}
},
{
"data":{"values":[{}]},
"mark":{"type":"rule","color":"#333333","strokeWidth":1.6},
"encoding":{"x":{"datum":{"year":2007,"month":"dec","date":8,"hours":12,"minutes":56},"type":"temporal"},"x2":{"datum":{"year":2007,"month":"dec","date":8,"hours":16,"minutes":36}},"y":{"datum":14.67,"type":"quantitative"},"y2":{"datum":20.59}}
},
{
"data":{"values":[{}]},
"mark":{"type":"point","shape":"triangle-up","angle":21.5,"filled":true,"size":120,"color":"#111111","opacity":1},
"encoding":{"x":{"datum":{"year":2007,"month":"dec","date":8,"hours":16,"minutes":52},"type":"temporal"},"y":{"datum":21.0,"type":"quantitative"}}
},
{
"data":{"values":[{}]},
"mark":{"type":"rule","color":"#333333","strokeWidth":1.6},
"encoding":{"x":{"datum":{"year":2007,"month":"dec","date":9,"hours":11,"minutes":50},"type":"temporal"},"x2":{"datum":{"year":2007,"month":"dec","date":9,"hours":16,"minutes":41}},"y":{"datum":14.67,"type":"quantitative"},"y2":{"datum":22.93}}
},
{
"data":{"values":[{}]},
"mark":{"type":"point","shape":"triangle-up","angle":20.4,"filled":true,"size":120,"color":"#111111","opacity":1},
"encoding":{"x":{"datum":{"year":2007,"month":"dec","date":9,"hours":16,"minutes":55},"type":"temporal"},"y":{"datum":23.33,"type":"quantitative"}}
}
]
}
],
"resolve":{"scale":{"y":"independent"}}
}
